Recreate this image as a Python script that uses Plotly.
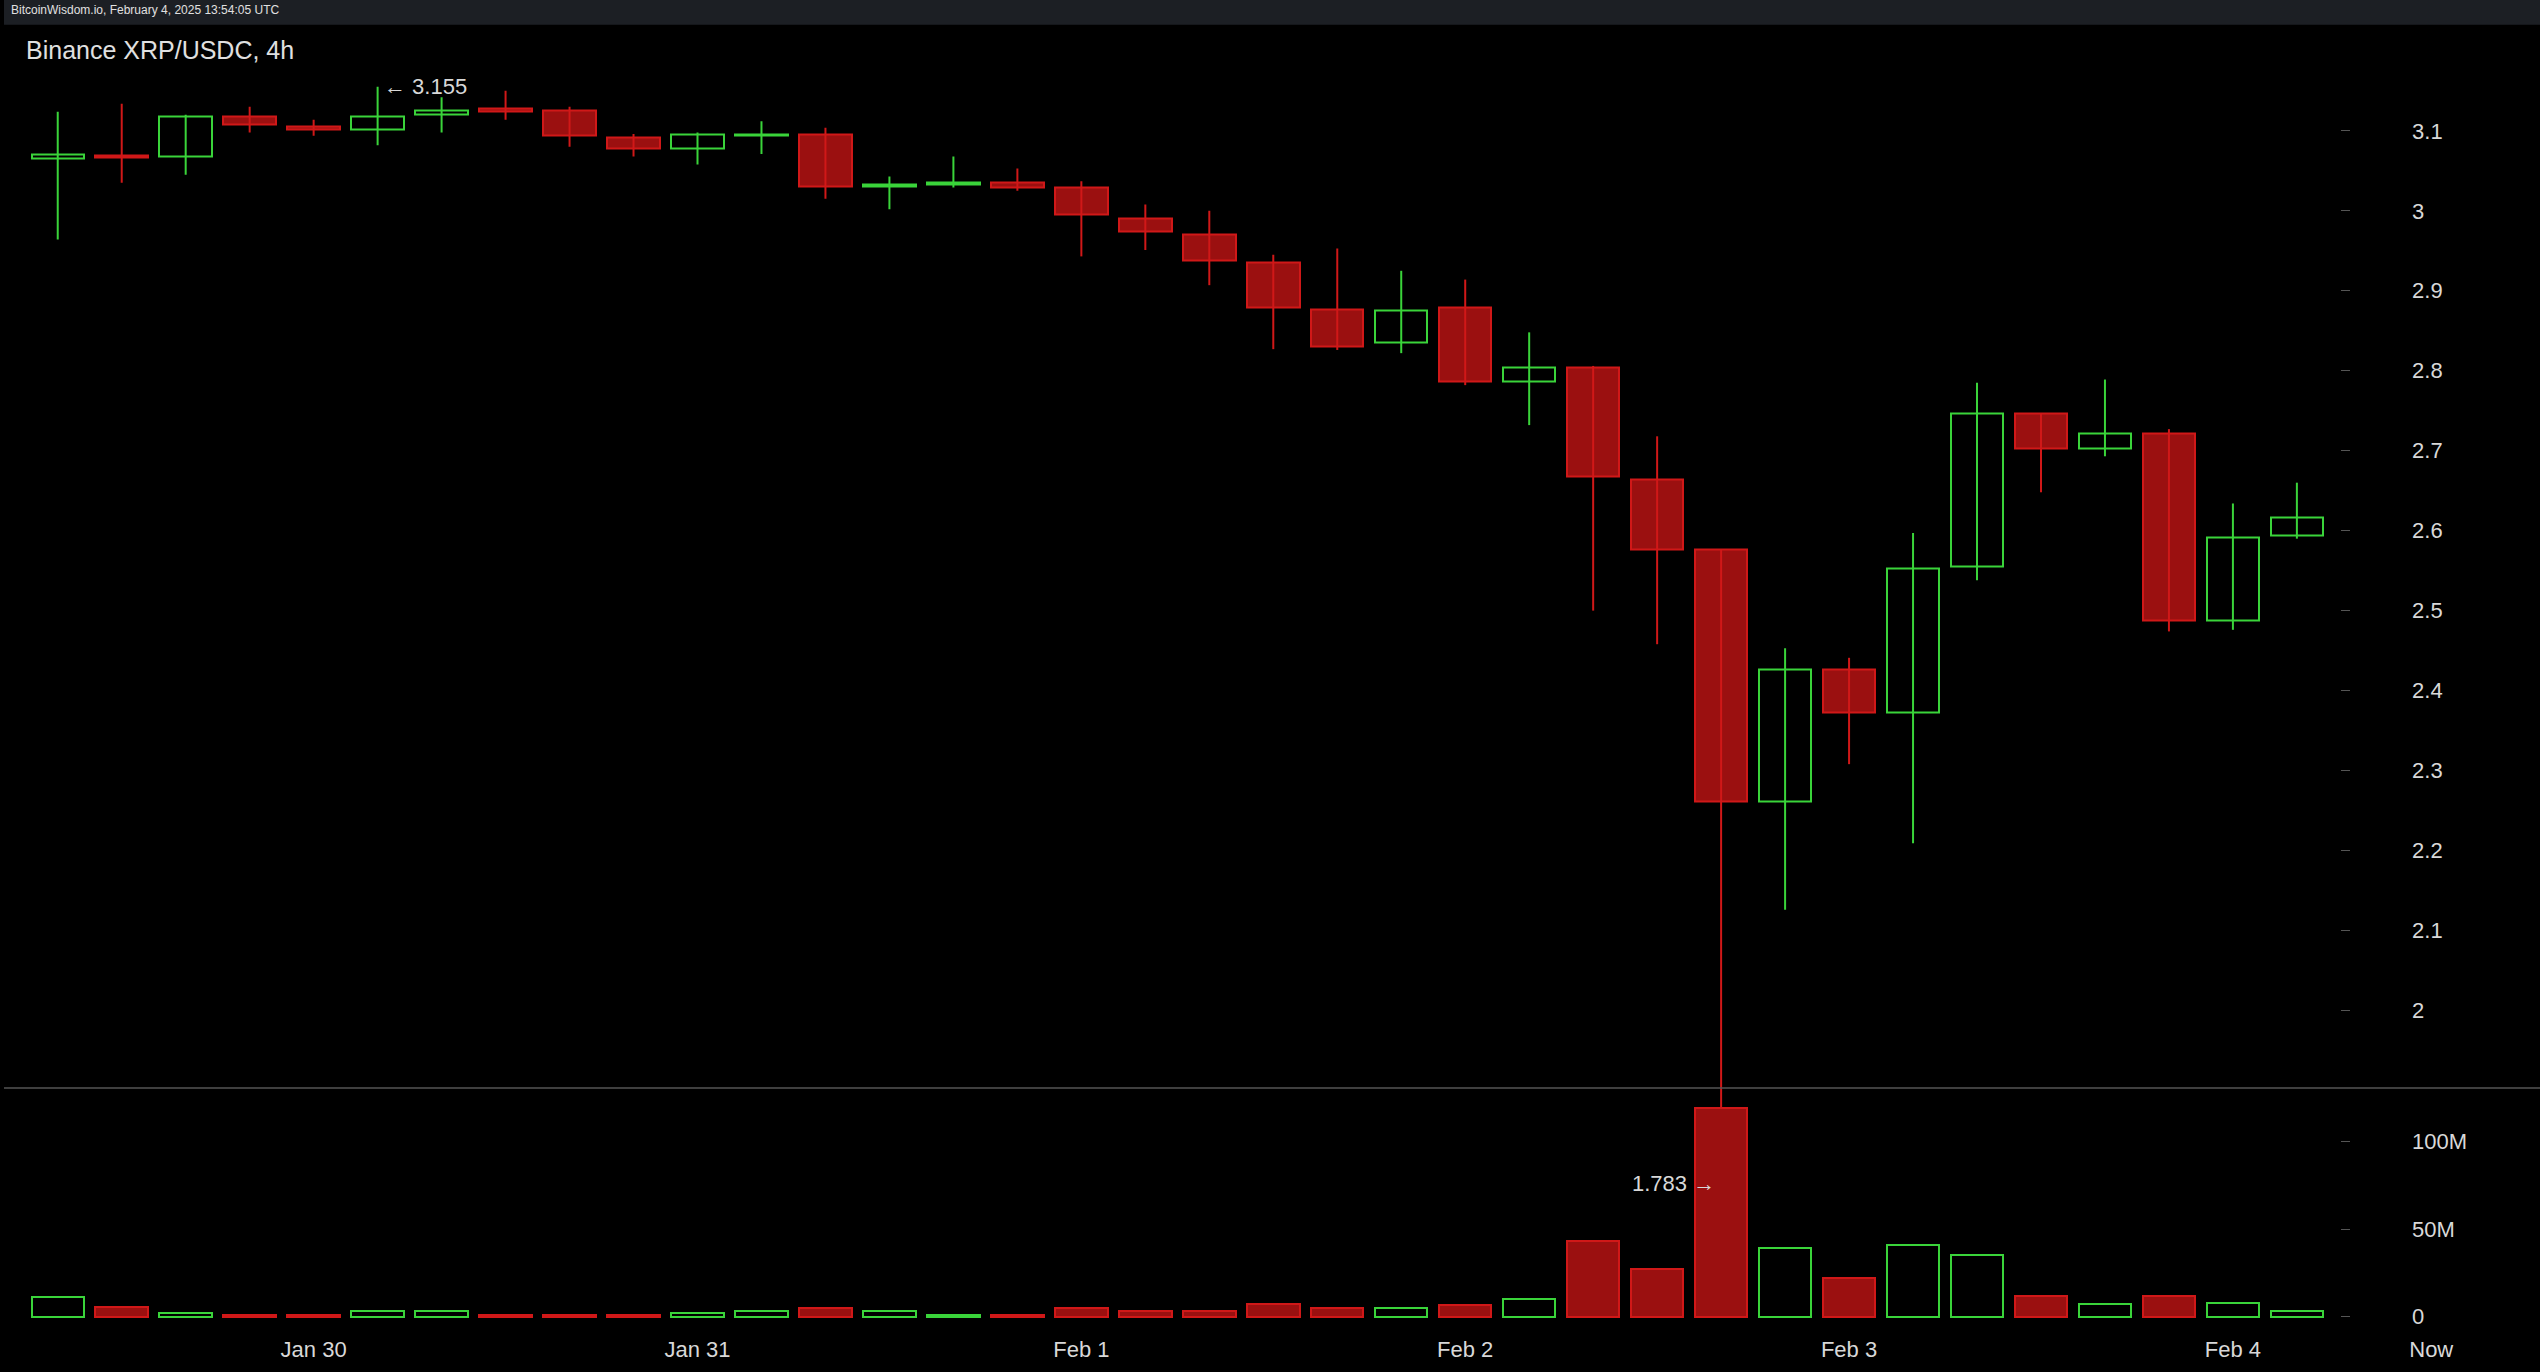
import plotly.graph_objects as go
from plotly.subplots import make_subplots

# 4h candles, Jan 29 08:00 .. Feb 4 04:00 (index 0..35)
opens = [3.066, 3.068, 3.068, 3.118, 3.106, 3.102, 3.120, 3.128, 3.126, 3.092,
         3.078, 3.094, 3.096, 3.031, 3.033, 3.035, 3.029, 2.991, 2.970, 2.936,
         2.877, 2.835, 2.879, 2.786, 2.804, 2.664, 2.577, 2.261, 2.427, 2.373,
         2.555, 2.747, 2.703, 2.721, 2.488, 2.594]
highs = [3.124, 3.134, 3.120, 3.130, 3.114, 3.155, 3.142, 3.150, 3.130, 3.096,
         3.098, 3.112, 3.104, 3.043, 3.068, 3.053, 3.037, 3.008, 3.000, 2.945,
         2.953, 2.925, 2.914, 2.848, 2.806, 2.718, 2.577, 2.453, 2.441, 2.597,
         2.785, 2.747, 2.789, 2.727, 2.634, 2.660]
lows = [2.964, 3.035, 3.045, 3.098, 3.094, 3.082, 3.098, 3.114, 3.080, 3.068,
        3.058, 3.071, 3.015, 3.002, 3.029, 3.025, 2.943, 2.951, 2.907, 2.827,
        2.826, 2.822, 2.782, 2.732, 2.500, 2.458, 1.783, 2.126, 2.308, 2.209,
        2.538, 2.648, 2.693, 2.474, 2.476, 2.590]
closes = [3.070, 3.067, 3.118, 3.108, 3.102, 3.118, 3.126, 3.124, 3.094, 3.078,
          3.096, 3.096, 3.031, 3.033, 3.035, 3.029, 2.995, 2.974, 2.938, 2.879,
          2.830, 2.875, 2.786, 2.804, 2.668, 2.577, 2.261, 2.427, 2.373, 2.553,
          2.747, 2.703, 2.721, 2.488, 2.591, 2.616]
volumes_m = [11, 5.5, 2, 1, 1, 3, 3, 1, 1, 1, 2, 3, 5, 3, 1, 1, 5, 3, 3, 7,
             5, 5, 6.5, 10, 43.5, 27, 119, 39, 22, 41, 35, 12, 7, 12, 8, 3]
date_ticks = [4, 10, 16, 22, 28, 34, 37.1]
date_labels = ["Jan 30", "Jan 31", "Feb 1", "Feb 2", "Feb 3", "Feb 4", "Now"]
price_ticks = [2, 2.1, 2.2, 2.3, 2.4, 2.5, 2.6, 2.7, 2.8, 2.9, 3, 3.1]
vol_ticks = [0, 50e6, 100e6]
vol_labels = ["0", "50M", "100M"]

GREEN = "#3ad43a"
RED = "#d01818"
RED_FILL = "#9b1010"
VOL_TOP = 130.6e6

idx = list(range(len(opens)))
up = [c >= o for o, c in zip(opens, closes)]
line_cols = [GREEN if u else RED for u in up]
fill_cols = ["black" if u else RED_FILL for u in up]
vols = [v * 1e6 for v in volumes_m]

fig = make_subplots(rows=2, cols=1, shared_xaxes=True, vertical_spacing=0,
                    row_heights=[0.8, 0.2])

# wicks, one line per colour
for is_up, col in ((True, GREEN), (False, RED)):
    wx, wy = [], []
    for i in idx:
        if up[i] == is_up:
            wx += [i, i, None]
            wy += [lows[i], highs[i], None]
    fig.add_trace(go.Scatter(x=wx, y=wy, mode="lines", line=dict(color=col, width=2),
                             showlegend=False, hoverinfo="skip"), row=1, col=1)

# the crash wick runs on into the volume panel, down to its bar
low_i = lows.index(min(lows))
fig.add_trace(go.Scatter(x=[low_i, low_i], y=[vols[low_i], VOL_TOP], mode="lines",
                         line=dict(color=line_cols[low_i], width=2),
                         showlegend=False, hoverinfo="skip"), row=2, col=1)

# bodies
body_base = [min(o, c) for o, c in zip(opens, closes)]
body_h = [max(abs(c - o), 0.002) for o, c in zip(opens, closes)]
fig.add_trace(go.Bar(x=idx, y=body_h, base=body_base, width=0.82,
                     marker=dict(color=fill_cols, line=dict(color=line_cols, width=2)),
                     showlegend=False), row=1, col=1)

fig.add_trace(go.Bar(
    x=idx, y=vols, width=0.82,
    marker=dict(color=fill_cols, line=dict(color=line_cols, width=2)),
    showlegend=False), row=2, col=1)

axis_font = dict(family="Liberation Sans, Arial", size=22, color="#d8d8d8")
fig.update_layout(
    width=2540, height=1372,
    paper_bgcolor="black", plot_bgcolor="black",
    margin=dict(l=4, r=0, t=0, b=0),
    xaxis=dict(domain=[0, 1]),
    xaxis2=dict(domain=[0, 1]),
    yaxis=dict(domain=[0.207, 0.953]),
    yaxis2=dict(domain=[0.032, 0.207]),
    bargap=0,
)
for ax in ("xaxis", "xaxis2"):
    fig.layout[ax].update(range=[-0.84, 38.8], showgrid=False, zeroline=False,
                          showline=False)
fig.update_xaxes(tickvals=date_ticks, ticktext=date_labels, ticks="",
                 tickfont=axis_font, ticklabelstandoff=6, row=2, col=1)
fig.update_xaxes(showticklabels=False, row=1, col=1)

common_y = dict(showgrid=False, zeroline=False, side="right", anchor="free",
                position=0.921, ticks="outside", ticklen=9, tickcolor="#555",
                tickfont=axis_font, ticklabelstandoff=58, showline=False)
fig.update_yaxes(range=[1.903, 3.183], tickvals=price_ticks,
                 ticktext=[f"{t:g}" for t in price_ticks], row=1, col=1, **common_y)
fig.update_yaxes(range=[-6.5e6, VOL_TOP], tickvals=vol_ticks, ticktext=vol_labels,
                 row=2, col=1, **common_y)

# separator between panels, top strip
fig.add_shape(type="line", xref="paper", yref="paper", x0=0, x1=1, y0=0.207, y1=0.207,
              line=dict(color="#555", width=1.5))
fig.add_shape(type="rect", xref="paper", yref="paper", x0=0, x1=1, y0=0.982, y1=1,
              fillcolor="#1c1f24", line=dict(width=0))

fig.add_annotation(xref="paper", yref="paper", x=0.002, y=0.999, xanchor="left",
                   yanchor="top", showarrow=False,
                   text="BitcoinWisdom.io, February 4, 2025 13:54:05 UTC",
                   font=dict(family="Liberation Sans, Arial", size=12, color="#e0e0e0"))
fig.add_annotation(xref="paper", yref="paper", x=0.008, y=0.975, xanchor="left",
                   yanchor="top", showarrow=False, text="Binance XRP/USDC, 4h",
                   font=dict(family="Liberation Sans, Arial", size=25, color="#e0e0e0"))
fig.add_annotation(x=5, y=max(highs), xref="x", yref="y", xanchor="left", xshift=4,
                   showarrow=False, text="← 3.155", font=axis_font)
fig.add_annotation(x=low_i, y=0.127, xref="x", yref="paper", xanchor="right", xshift=-4,
                   showarrow=False, text=f"{min(lows):g} →", font=axis_font)

fig.write_html("out.html", config={"displayModeBar": False}, post_script=(
    "document.body.style.margin='0';"
    "document.body.style.background='#1c1f24';"))
